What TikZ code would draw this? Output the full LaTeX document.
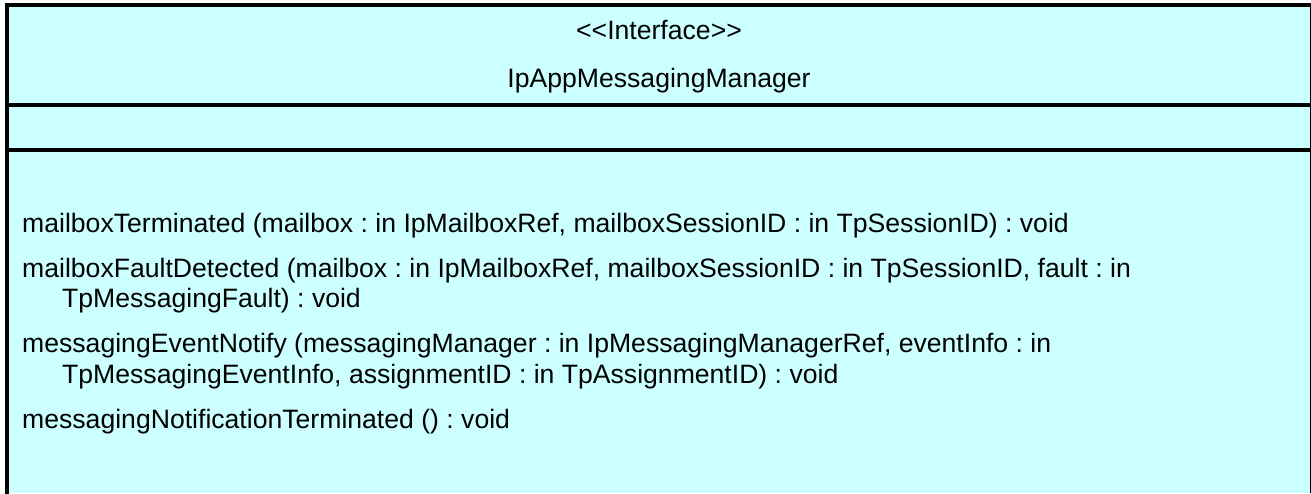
\documentclass[tikz,border=0pt]{standalone}
\usepackage{fontspec}
\setmainfont{Liberation Sans}
\definecolor{umlfill}{HTML}{CCFFFF}
\begin{document}
\frenchspacing
\begin{tikzpicture}[x=1pt,y=-1pt,
  txt/.style={inner sep=0pt, anchor=base west, font=\fontsize{26.6}{30}\selectfont},
  ctr/.style={inner sep=0pt, anchor=base, font=\fontsize{26.6}{30}\selectfont},
  border/.style={line width=4pt, line cap=rect},
  thin/.style={line width=1pt}]
\useasboundingbox (0,0) rectangle (1311,493);
\fill[umlfill] (7,5) rectangle (1311,493);
% borders
\draw[border] (1311,5) -- (7,5) -- (7,493);
\draw[thin] (1310.5,5) -- (1310.5,493);
\draw[border] (7,105) -- (1311,105);
\draw[border] (7,150) -- (1311,150);
% header
\node[ctr] (stereo) at (659,39) {<\kern0pt<Interface>\kern0pt>};
\node[ctr] (name) at (659,87) {IpAppMessagingManager};
% operations
\node[txt] (op1) at (22,232) {mailboxTerminated (mailbox : in IpMailboxRef, mailboxSessionID : in TpSessionID) : void};
\node[txt] (op2) at (22,277) {mailboxFaultDetected (mailbox : in IpMailboxRef, mailboxSessionID : in TpSessionID, fault : in};
\node[txt] (op2b) at (62,307.6) {TpMessagingFault) : void};
\node[txt] (op3) at (22,352.6) {messagingEventNotify (messagingManager : in IpMessagingManagerRef, eventInfo : in};
\node[txt] (op3b) at (62,383.2) {TpMessagingEventInfo, assignmentID : in TpAssignmentID) : void};
\node[txt] (op4) at (22,428.2) {messagingNotificationTerminated () : void};
\end{tikzpicture}
\end{document}
